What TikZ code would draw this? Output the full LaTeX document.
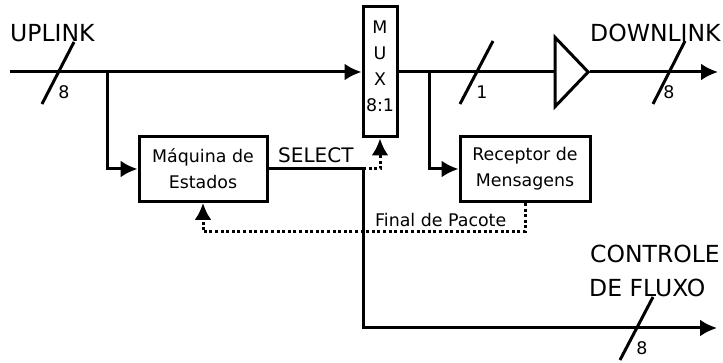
\documentclass[tikz,border=0pt]{standalone}
\usepackage{fontspec}
\setmainfont{DejaVu Sans}
\usetikzlibrary{arrows.meta, positioning, shapes.geometric}
\tikzset{
    wire/.style={line width=3pt},
    arrowwire/.style={wire, -{Latex[length=17pt,width=17pt]}},
    dotwire/.style={line width=3pt, dash pattern=on 3pt off 2.6pt},
    dotarrow/.style={dotwire, -{Latex[length=17pt,width=17pt]}},
    box/.style={draw, line width=3pt, align=center, font=\fontsize{17.4}{26}\selectfont, inner sep=0pt},
    bigtext/.style={font=\fontsize{23.5}{28}\selectfont, anchor=west, inner sep=0pt},
    midtext/.style={font=\fontsize{17.4}{20}\selectfont, inner sep=0pt},
}
\begin{document}
\begin{tikzpicture}[x=1pt,y=-1pt]
    \useasboundingbox (0,0) rectangle (723,363);

    % Blocos
    \node[box, minimum width=34pt, minimum height=130pt] (mux) at (380,72) {};
    \node[midtext, align=center, font=\fontsize{17.4}{26}\selectfont] (muxtext) at (380,66.5) {M\\U\\X\\8:1};
    \node[box, minimum width=128pt, minimum height=65pt] (maquina) at (203,169) {Máquina de\\Estados};
    \node[box, minimum width=130pt, minimum height=65pt] (receptor) at (525,169) {Receptor de\\Mensagens};
    \node[draw, line width=3pt, isosceles triangle, isosceles triangle apex angle=92, isosceles triangle stretches, minimum height=33pt, minimum width=69pt, inner sep=0pt] (buffer) at (569,72) {};

    % Pontos livres
    \coordinate (inicio) at (10,72);
    \coordinate (ramo1) at (107,72);
    \coordinate (ramo1b) at (107,169);
    \coordinate (ramo2) at (429,72);
    \coordinate (ramo2b) at (429,169);
    \coordinate (saida) at (718,72);
    \coordinate (canto) at (363,169);
    \coordinate (canto2) at (363,328);
    \coordinate (saida2) at (717,328);
    \coordinate (ponto1) at (380,169);
    \coordinate (ponto2) at (525,232);
    \coordinate (ponto3) at (203,232);

    % Linhas cheias
    \draw[arrowwire] (inicio) -- (mux.west);
    \draw[arrowwire] (ramo1) -- (ramo1b) -- (maquina.west);
    \draw[wire] (mux.east) -- (buffer.lower side);
    \draw[arrowwire] (ramo2) -- (ramo2b) -- (receptor.west);
    \draw[arrowwire] (buffer.apex) -- (saida);
    \draw[wire] (maquina.east) -- (canto);
    \draw[arrowwire] (canto) -- (canto2) -- (saida2);

    % Linhas pontilhadas
    \draw[dotarrow] (canto) -- (ponto1) -- (mux.south);
    \draw[dotarrow] (receptor.south) -- (ponto2) -- (ponto3) -- (maquina.south);

    % Barras de largura
    \coordinate (b1a) at (42,104);
    \coordinate (b1b) at (74,42);
    \draw[wire] (b1a) -- (b1b);
    \coordinate (b2a) at (460,104);
    \coordinate (b2b) at (493,41);
    \draw[wire] (b2a) -- (b2b);
    \coordinate (b3a) at (653,104);
    \coordinate (b3b) at (685,41);
    \draw[wire] (b3a) -- (b3b);
    \coordinate (b4a) at (620,360);
    \coordinate (b4b) at (653,297);
    \draw[wire] (b4a) -- (b4b);

    % Textos
    \node[bigtext] (uplink) at (10,33) {UPLINK};
    \node[bigtext] (downlink) at (590,33) {DOWNLINK};
    \node[bigtext] (controle) at (590,254) {CONTROLE};
    \node[bigtext] (fluxo) at (589,288) {DE FLUXO};
    \node[midtext] (n1) at (64,92) {8};
    \node[midtext] (n2) at (482,92) {1};
    \node[midtext] (n3) at (669,92) {8};
    \node[midtext] (n4) at (642,348) {8};
    \node[font=\fontsize{20}{24}\selectfont, inner sep=0pt, anchor=west] (select) at (278,155) {SELECT};
    \node[midtext, anchor=west] (final) at (375,220) {Final de Pacote};
\end{tikzpicture}
\end{document}
